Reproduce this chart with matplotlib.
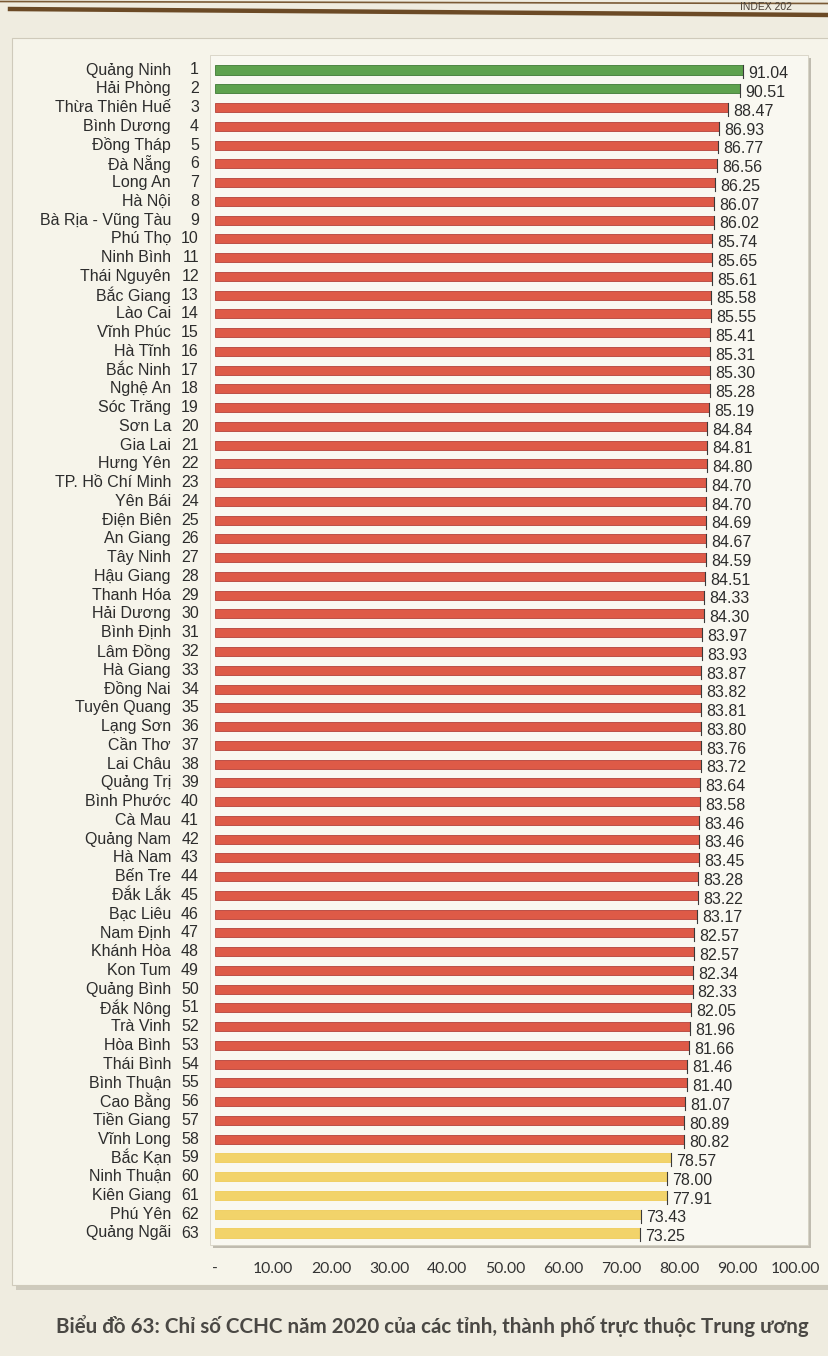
import matplotlib
matplotlib.use("Agg")
import matplotlib.pyplot as plt
from matplotlib.patches import Rectangle
from matplotlib.lines import Line2D

provinces = ["Quảng Ninh", "Hải Phòng", "Thừa Thiên Huế", "Bình Dương", "Đồng Tháp",
             "Đà Nẵng", "Long An", "Hà Nội", "Bà Rịa - Vũng Tàu", "Phú Thọ",
             "Ninh Bình", "Thái Nguyên", "Bắc Giang", "Lào Cai", "Vĩnh Phúc",
             "Hà Tĩnh", "Bắc Ninh", "Nghệ An", "Sóc Trăng", "Sơn La",
             "Gia Lai", "Hưng Yên", "TP. Hồ Chí Minh", "Yên Bái", "Điện Biên",
             "An Giang", "Tây Ninh", "Hậu Giang", "Thanh Hóa", "Hải Dương",
             "Bình Định", "Lâm Đồng", "Hà Giang", "Đồng Nai", "Tuyên Quang",
             "Lạng Sơn", "Cần Thơ", "Lai Châu", "Quảng Trị", "Bình Phước",
             "Cà Mau", "Quảng Nam", "Hà Nam", "Bến Tre", "Đắk Lắk",
             "Bạc Liêu", "Nam Định", "Khánh Hòa", "Kon Tum", "Quảng Bình",
             "Đắk Nông", "Trà Vinh", "Hòa Bình", "Thái Bình", "Bình Thuận",
             "Cao Bằng", "Tiền Giang", "Vĩnh Long", "Bắc Kạn", "Ninh Thuận",
             "Kiên Giang", "Phú Yên", "Quảng Ngãi"]
ranks = list(range(1, 64))
values = [91.04, 90.51, 88.47, 86.93, 86.77, 86.56, 86.25, 86.07, 86.02, 85.74,
          85.65, 85.61, 85.58, 85.55, 85.41, 85.31, 85.30, 85.28, 85.19, 84.84,
          84.81, 84.80, 84.70, 84.70, 84.69, 84.67, 84.59, 84.51, 84.33, 84.30,
          83.97, 83.93, 83.87, 83.82, 83.81, 83.80, 83.76, 83.72, 83.64, 83.58,
          83.46, 83.46, 83.45, 83.28, 83.22, 83.17, 82.57, 82.57, 82.34, 82.33,
          82.05, 81.96, 81.66, 81.46, 81.40, 81.07, 80.89, 80.82, 78.57, 78.00,
          77.91, 73.43, 73.25]
xticks = [0, 10, 20, 30, 40, 50, 60, 70, 80, 90, 100]
xtick_labels = ["-", "10.00", "20.00", "30.00", "40.00", "50.00", "60.00",
                "70.00", "80.00", "90.00", "100.00"]
title = "Biểu đồ 63: Chỉ số CCHC năm 2020 của các tỉnh, thành phố trực thuộc Trung ương"

GREEN, RED, YELLOW = "#5ea24e", "#de5a47", "#f2d36a"
EDGE = {GREEN: "#3f7a35", RED: "#b5423a", YELLOW: "#f0cc5a"}

def colour(v):
    if v >= 90:
        return GREEN
    if v >= 80:
        return RED
    return YELLOW

W, H = 829, 1356
fig = plt.figure(figsize=(W / 100, H / 100), dpi=100)
fig.patch.set_facecolor("#efece0")

def fx(px):
    return px / W

def fy(py):
    return 1 - py / H

# top decorative lines and header text
fig.add_artist(Line2D([fx(10), fx(829)], [fy(9), fy(15)], color="#6b4a26", lw=3.2, zorder=-5))
fig.add_artist(Line2D([fx(0), fx(829)], [fy(1.5), fy(3.5)], color="#7a5a35", lw=1.2, zorder=-5))
fig.text(fx(740), fy(2), "INDEX 202", fontsize=7.5, color="#4a4036",
         family=["Liberation Sans", "DejaVu Sans"], va="top", ha="left")

# outer chart card (with shadow)
fig.add_artist(Rectangle((fx(16), fy(1290)), fx(829 - 16), (1290 - 42) / H,
                         facecolor="#b9b4a6", edgecolor="none", alpha=0.6, zorder=-5))
fig.add_artist(Rectangle((fx(12), fy(1285)), fx(829 - 12), (1285 - 38) / H,
                         facecolor="#f6f4ea", edgecolor="#cfcabb", lw=0.8, zorder=-4))
# inner plot panel (with shadow)
fig.add_artist(Rectangle((fx(213), fy(1248)), fx(810 - 213 + 1), (1248 - 58) / H,
                         facecolor="#a9a598", edgecolor="none", alpha=0.7, zorder=-3))
fig.add_artist(Rectangle((fx(210), fy(1245)), fx(808 - 210), (1245 - 55) / H,
                         facecolor="#f9f8f1", edgecolor="#d6d2c4", lw=0.6, zorder=-2))

# axes: x 0 at 215 px
left_px, scale = 215, 5.8
ax = fig.add_axes([fx(left_px), fy(1245), fx(100 * scale), (1245 - 55) / H])
ax.set_zorder(5)
ax.set_facecolor("none")
row_px = (1233 - 70) / 62
top_units = (70 - 55) / row_px
y0 = 1 - top_units
y1 = y0 + (1245 - 55) / row_px
ax.set_ylim(y1, y0)
ax.set_xlim(0, 100)

ypos = ranks
cols = [colour(v) for v in values]
ax.barh(ypos, values, height=0.48, color=cols,
        edgecolor=[EDGE[c] for c in cols], linewidth=0.6, zorder=2)

for y, v in zip(ypos, values):
    ax.plot([v, v], [y - 0.24, y + 0.45], color="#3a3a3a", lw=0.8, zorder=3)
    ax.text(v + 0.9, y + 0.2, f"{v:.2f}", ha="left", va="center", fontsize=11.5,
            color="#2c2c2c", family=["Liberation Sans", "DejaVu Sans"], zorder=4)

for s in ax.spines.values():
    s.set_visible(False)
ax.set_yticks([])
ax.set_xticks(xticks)
ax.set_xticklabels(xtick_labels, fontsize=11.3, color="#333333",
                   family=["Lato", "DejaVu Sans"])
ax.tick_params(axis="x", length=0, pad=12)

# category labels: name and rank
for y, name, r in zip(ypos, provinces, ranks):
    ax.text((171 - left_px) / scale, y, name,
            ha="right", va="center", fontsize=11.5, color="#2c2c2c",
            family=["Liberation Sans", "DejaVu Sans"], clip_on=False)
    ax.text((199 - left_px) / scale, y, str(r), ha="right", va="center",
            fontsize=11.5, color="#2c2c2c",
            family=["Liberation Sans", "DejaVu Sans"], clip_on=False)

fig.text(fx(432), fy(1326), title, ha="center", va="center", fontsize=14.8,
         fontweight="bold", color="#4a4844", family=["Lato", "DejaVu Sans"])

fig.savefig("out.png", dpi=100, facecolor=fig.get_facecolor())
